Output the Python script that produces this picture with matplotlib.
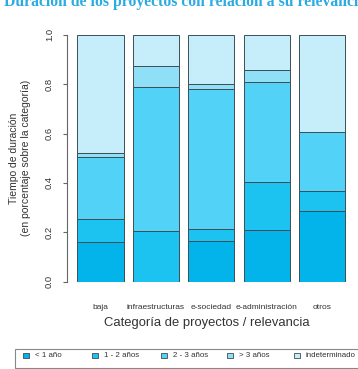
import numpy as np
import matplotlib
matplotlib.use("Agg")
import matplotlib.pyplot as plt
from matplotlib.patches import Rectangle

# datos (proporcion por categoria)
categorias = ["baja", "infraestructuras", "e-sociedad", "e-administración", "otros"]
duraciones = ["< 1 año", "1 - 2 años", "2 - 3 años", "> 3 años", "indeterminado"]
menos_1 = [0.160, 0.000, 0.165, 0.209, 0.286]
de_1_a_2 = [0.092, 0.205, 0.050, 0.193, 0.081]
de_2_a_3 = [0.253, 0.584, 0.566, 0.405, 0.238]
mas_3 = [0.017, 0.084, 0.018, 0.051, 0.000]
indeterminado = [0.478, 0.127, 0.201, 0.142, 0.395]

colores = ["#02B4EA", "#1DC3F0", "#52D2F7", "#8FDFF6", "#C6EDFA"]
series = [menos_1, de_1_a_2, de_2_a_3, mas_3, indeterminado]

W, H = 358, 369
fig = plt.figure(figsize=(W / 100, H / 100), dpi=100)
plt.rcParams['font.family'] = ['Liberation Sans', 'DejaVu Sans']

# ejes en pixeles -> fraccion de figura
left, right, top, bottom = 66.6, 356.0, 34.7, 281.7
ax = fig.add_axes([left / W, 1 - bottom / H, (right - left) / W, (bottom - top) / H])

x = 0.7 + 1.2 * np.arange(len(categorias))
base = np.zeros(len(categorias))
for vals, col in zip(series, colores):
    ax.bar(x, vals, width=1.0, bottom=base, color=col,
           edgecolor="#3C4E58", linewidth=0.7)
    base += np.array(vals)

ax.set_xlim(-0.032, 6.232)
ax.set_ylim(0, 1)
for s in ["top", "right", "bottom"]:
    ax.spines[s].set_visible(False)
ax.spines["left"].set_color("#666666")
ax.spines["left"].set_linewidth(0.8)

ax.set_yticks([0, 0.2, 0.4, 0.6, 0.8, 1.0])
ax.set_yticklabels(["0.0", "0.2", "0.4", "0.6", "0.8", "1.0"],
                   rotation=90, va="center", fontsize=6.8, color="#333333")
ax.tick_params(axis="y", direction="out", length=3, width=0.8,
               color="#666666", pad=6)
ax.set_xticks(x)
ax.set_xticklabels(categorias, fontsize=6, color="#333333")
ax.tick_params(axis="x", length=0, pad=16)

fig.text(20 / W, 1 - 158 / H,
         "Tiempo de duración\n(en porcentaje sobre la categoría)",
         rotation=90, ha="center", va="center", multialignment="center",
         fontsize=7.5, color="#333333", linespacing=1.35)

fig.text(206.7 / W, 1 - 322.7 / H, "Categoría de proyectos / relevancia",
         ha="center", va="center", fontsize=9.4, color="#333333")

# titulo (cortado arriba como en el original)
fig.text(4 / W, 1 - 6.3 / H,
         "Duración de los proyectos con relación a su relevancia",
         ha="left", va="baseline", fontsize=11.3, fontweight="bold",
         family="Liberation Serif", color="#2AABE2")

# leyenda dibujada a mano
fig.patches.append(Rectangle((15 / W, 1 - 368 / H), 360 / W, 19 / H,
                             transform=fig.transFigure, fill=False,
                             edgecolor="#888888", linewidth=0.8))
pos_ley = [23, 92, 161, 227, 294]
for px, lab, col in zip(pos_ley, duraciones, colores):
    fig.patches.append(Rectangle((px / W, 1 - 358 / H), 6 / W, 5.5 / H,
                                 transform=fig.transFigure, facecolor=col,
                                 edgecolor="#3C4E58", linewidth=0.6))
    fig.text((px + 12) / W, 1 - 355.5 / H, lab, ha="left", va="center",
             fontsize=5.7, color="#333333")

fig.savefig("out.png", dpi=100)
